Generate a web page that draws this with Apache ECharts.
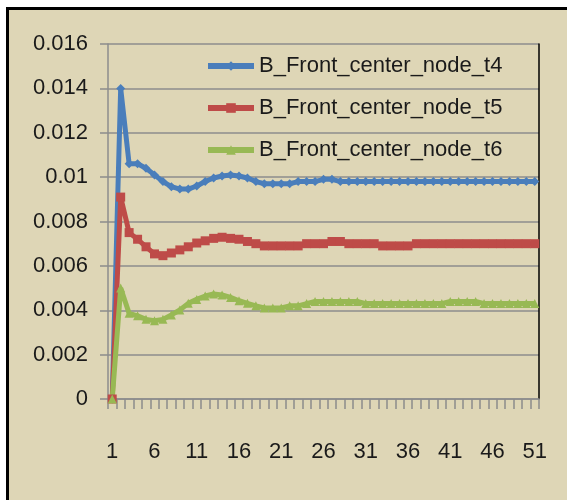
<!DOCTYPE html>
<html>
<head>
<meta charset="utf-8">
<script src="https://cdn.jsdelivr.net/npm/echarts@6/dist/echarts.min.js"></script>
<style>
  html, body { margin: 0; padding: 0; background: #fff; }
  .frame {
    position: absolute;
    left: 6px;
    top: 7px;
    width: 558px;
    height: 490px;
    border-left: 3px solid #000;
    border-top: 3px solid #000;
    background: #ded6b6;
  }
  #chart { width: 100%; height: 100%; }
</style>
</head>
<body>
<div class="frame"><div id="chart"></div></div>
<script>
  // x categories 1..51
  var categories = [];
  for (var i = 1; i <= 51; i++) categories.push(String(i));

  var seriesNames = ['B_Front_center_node_t4', 'B_Front_center_node_t5', 'B_Front_center_node_t6'];

  var t4 = [0, 0.0140, 0.0106, 0.0106, 0.0104, 0.0101, 0.0098, 0.00957, 0.00946, 0.00946,
    0.0096, 0.0098, 0.00996, 0.01005, 0.0101, 0.01005, 0.00996, 0.0098, 0.0097, 0.0097,
    0.0097, 0.0097, 0.0098, 0.0098, 0.0098, 0.0099, 0.0099, 0.0098, 0.0098, 0.0098,
    0.0098, 0.0098, 0.0098, 0.0098, 0.0098, 0.0098, 0.0098, 0.0098, 0.0098, 0.0098,
    0.0098, 0.0098, 0.0098, 0.0098, 0.0098, 0.0098, 0.0098, 0.0098, 0.0098, 0.0098,
    0.0098];

  var t5 = [0, 0.0091, 0.0075, 0.0072, 0.00686, 0.00654, 0.00646, 0.00658, 0.00672, 0.00686,
    0.00703, 0.00713, 0.00724, 0.00729, 0.00724, 0.0072, 0.0071, 0.0070, 0.0069, 0.0069,
    0.0069, 0.0069, 0.0069, 0.0070, 0.0070, 0.0070, 0.0071, 0.0071, 0.0070, 0.0070,
    0.0070, 0.0070, 0.0069, 0.0069, 0.0069, 0.0069, 0.0070, 0.0070, 0.0070, 0.0070,
    0.0070, 0.0070, 0.0070, 0.0070, 0.0070, 0.0070, 0.0070, 0.0070, 0.0070, 0.0070,
    0.0070];

  var t6 = [0, 0.0050, 0.00386, 0.00375, 0.00359, 0.00353, 0.00359, 0.00379, 0.00401, 0.00431,
    0.00449, 0.00464, 0.00473, 0.00469, 0.00458, 0.00443, 0.00431, 0.0042, 0.0041, 0.0041,
    0.0041, 0.0042, 0.0042, 0.0043, 0.0044, 0.0044, 0.0044, 0.0044, 0.0044, 0.0044,
    0.0043, 0.0043, 0.0043, 0.0043, 0.0043, 0.0043, 0.0043, 0.0043, 0.0043, 0.0043,
    0.0044, 0.0044, 0.0044, 0.0044, 0.0043, 0.0043, 0.0043, 0.0043, 0.0043, 0.0043,
    0.0043];

  var yTicks = ['0', '0.002', '0.004', '0.006', '0.008', '0.01', '0.012', '0.014', '0.016'];

  var font = "'Liberation Sans', Arial, sans-serif";
  var gridGray = '#8c8c8c';

  var myChart = echarts.init(document.getElementById('chart'));

  function lineSeries(name, data, color, symbol, size) {
    return {
      name: name,
      type: 'line',
      data: data,
      symbol: symbol,
      symbolSize: size,
      showSymbol: true,
      showAllSymbol: true,
      animation: false,
      lineStyle: { color: color, width: 5 },
      itemStyle: { color: color, borderWidth: 0 }
    };
  }

  myChart.setOption({
    animation: false,
    color: ['#4a7ebb', '#be4b48', '#98b954'],
    grid: { left: 99, top: 34, right: 28, bottom: 101, containLabel: false },
    legend: {
      orient: 'vertical',
      left: 196,
      top: 45,
      padding: 0,
      itemWidth: 46,
      itemHeight: 12,
      itemGap: 20,
      data: seriesNames,
      lineStyle: { width: 6 },
      textStyle: { fontFamily: font, fontSize: 22, color: '#1a1a1a', lineHeight: 22 }
    },
    xAxis: {
      type: 'category',
      data: categories,
      boundaryGap: true,
      axisLine: { show: true, lineStyle: { color: gridGray, width: 1.5 } },
      axisTick: { show: true, interval: 0, length: 10, lineStyle: { color: gridGray, width: 1.5 } },
      axisLabel: { interval: 4, margin: 42, fontFamily: font, fontSize: 22, color: '#1a1a1a' },
      splitLine: { show: false }
    },
    yAxis: [{
      type: 'value',
      min: 0,
      max: 0.016,
      interval: 0.002,
      axisLine: { show: true, lineStyle: { color: gridGray, width: 1.5 } },
      axisTick: { show: true, length: 8, lineStyle: { color: gridGray, width: 1.5 } },
      axisLabel: {
        margin: 20,
        fontFamily: font,
        fontSize: 22,
        color: '#1a1a1a',
        formatter: function (v, idx) { return yTicks[idx]; }
      },
      splitLine: { show: true, lineStyle: { color: gridGray, width: 1.5 } }
    }, {
      type: 'value',
      position: 'right',
      min: 0,
      max: 0.016,
      interval: 0.002,
      axisLine: { show: true, lineStyle: { color: '#000', width: 1.5 } },
      axisTick: { show: false },
      axisLabel: { show: false },
      splitLine: { show: false }
    }],
    series: [
      lineSeries(seriesNames[0], t4, '#4a7ebb', 'diamond', 9),
      lineSeries(seriesNames[1], t5, '#be4b48', 'rect', 9),
      lineSeries(seriesNames[2], t6, '#98b954', 'triangle', 9)
    ]
  });
</script>
</body>
</html>
